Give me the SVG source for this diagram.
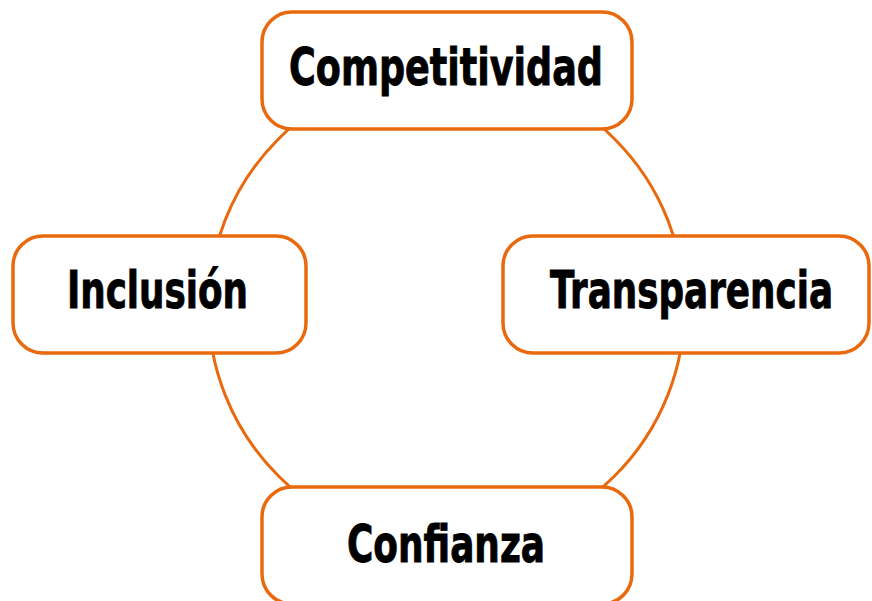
<svg xmlns="http://www.w3.org/2000/svg" width="872" height="601" viewBox="0 0 872 601">
  <style>
    .box { fill: #ffffff; stroke: #E96A0E; stroke-width: 3.5; }
    .ring { fill: none; stroke: #E96A0E; stroke-width: 3; }
    .lbl { font-family: "Liberation Sans Narrow", "DejaVu Sans Condensed", "Liberation Sans", sans-serif; font-weight: bold; font-size: 52px; fill: #000000; stroke: #000000; stroke-width: 0.9; text-anchor: middle; }
  </style>
  <rect width="872" height="601" fill="#ffffff"/>
  <g id="connectors">
    <circle class="ring" cx="446.5" cy="307.5" r="238"/>
  </g>
  <g id="competitividad">
    <rect class="box" x="262" y="12" width="370" height="117" rx="30"/>
    <text class="lbl" x="446" y="85" textLength="314" lengthAdjust="spacingAndGlyphs">Competitividad</text>
  </g>
  <g id="inclusion">
    <rect class="box" x="13" y="236" width="293" height="117" rx="30"/>
    <text class="lbl" x="157.5" y="308" textLength="181" lengthAdjust="spacingAndGlyphs">Inclusión</text>
  </g>
  <g id="transparencia">
    <rect class="box" x="503" y="236" width="366" height="117" rx="30"/>
    <text class="lbl" x="691.5" y="308" font-size="50" textLength="283" lengthAdjust="spacingAndGlyphs">Transparencia</text>
  </g>
  <g id="confianza">
    <rect class="box" x="262" y="487" width="370" height="117" rx="30"/>
    <text class="lbl" x="446" y="562" textLength="198" lengthAdjust="spacingAndGlyphs">Confianza</text>
  </g>
</svg>
